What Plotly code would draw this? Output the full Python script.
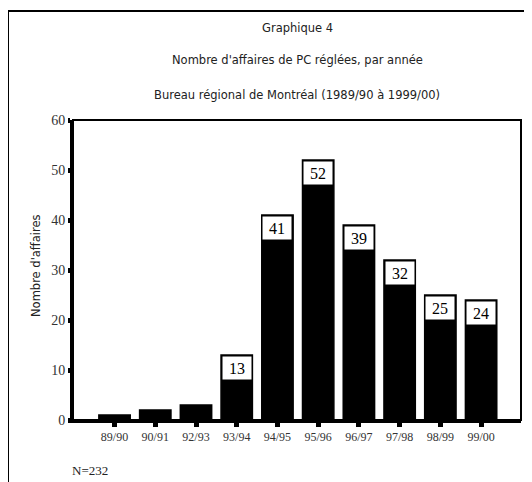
import plotly.graph_objects as go

categories = ["89/90", "90/91", "92/93", "93/94", "94/95", "95/96", "96/97", "97/98", "98/99", "99/00"]
values = [1, 2, 3, 13, 41, 52, 39, 32, 25, 24]
y_ticks = [0, 10, 20, 30, 40, 50, 60]
title_lines = [
    "Graphique 4",
    "Nombre d'affaires de PC réglées, par année",
    "Bureau régional de Montréal (1989/90 à 1999/00)",
]
y_title = "Nombre d'affaires"
note = "N=232"
label_min = 10

SANS = "DejaVu Sans, Verdana, sans-serif"
SERIF = "Liberation Serif, Times New Roman, serif"

fig = go.Figure()
fig.add_trace(go.Bar(
    x=categories, y=values,
    marker=dict(color="black", line=dict(color="black", width=1.5)),
    hoverinfo="x+y",
))

annotations = []
for c, v in zip(categories, values):
    if v >= label_min:
        annotations.append(dict(
            x=c, y=v, xref="x", yref="y", yanchor="top", xanchor="center",
            text=str(v), showarrow=False,
            font=dict(family=SERIF, size=16, color="black"),
            bgcolor="white", bordercolor="black", borderwidth=1.5, borderpad=1,
            width=27, height=21,
        ))

title_shifts = [92, 60, 25]
for t, s in zip(title_lines, title_shifts):
    annotations.append(dict(
        x=0.5, y=1, xref="paper", yref="paper", yshift=s,
        xanchor="center", yanchor="middle", text=t, showarrow=False,
        font=dict(family=SANS, size=11.5, color="#222"),
    ))

annotations.append(dict(
    x=0, y=0.5, xref="paper", yref="paper", xshift=-37, yshift=4,
    xanchor="center", yanchor="middle", text=y_title, textangle=-90,
    showarrow=False, font=dict(family=SANS, size=11.5, color="#222"),
))
annotations.append(dict(
    x=0, y=0, xref="paper", yref="paper", xshift=-3, yshift=-50,
    xanchor="left", yanchor="middle", text=note, showarrow=False,
    font=dict(family=SERIF, size=13, color="#222"),
))

fig.update_layout(
    width=532, height=482,
    margin=dict(l=65, r=19, t=112, b=70),
    paper_bgcolor="white", plot_bgcolor="white",
    showlegend=False,
    bargap=0.23,
    annotations=annotations,
    shapes=[
        dict(type="rect", xref="paper", yref="paper",
             x0=0, x1=1, y0=0, y1=1, line=dict(color="black", width=2)),
        dict(type="rect", xref="paper", yref="paper",
             x0=-65 / 448, x1=1.2, y0=-0.4, y1=(412 - 3) / 300,
             line=dict(color="black", width=2), layer="below"),
    ],
    xaxis=dict(
        type="category", range=[-1.02, 9.98],
        showline=True, linecolor="black", linewidth=2.5,
        ticks="outside", ticklen=4, tickwidth=5, tickcolor="black",
        tickfont=dict(family=SERIF, size=12, color="#333"),
        showgrid=False, zeroline=False, fixedrange=True,
    ),
    yaxis=dict(
        range=[0, 60], tickvals=y_ticks,
        showline=True, linecolor="black", linewidth=3,
        ticks="outside", ticklen=2, tickwidth=5, tickcolor="black",
        tickfont=dict(family=SERIF, size=14, color="#333"),
        showgrid=False, zeroline=False, fixedrange=True,
    ),
)

fig.write_html("out.html")
